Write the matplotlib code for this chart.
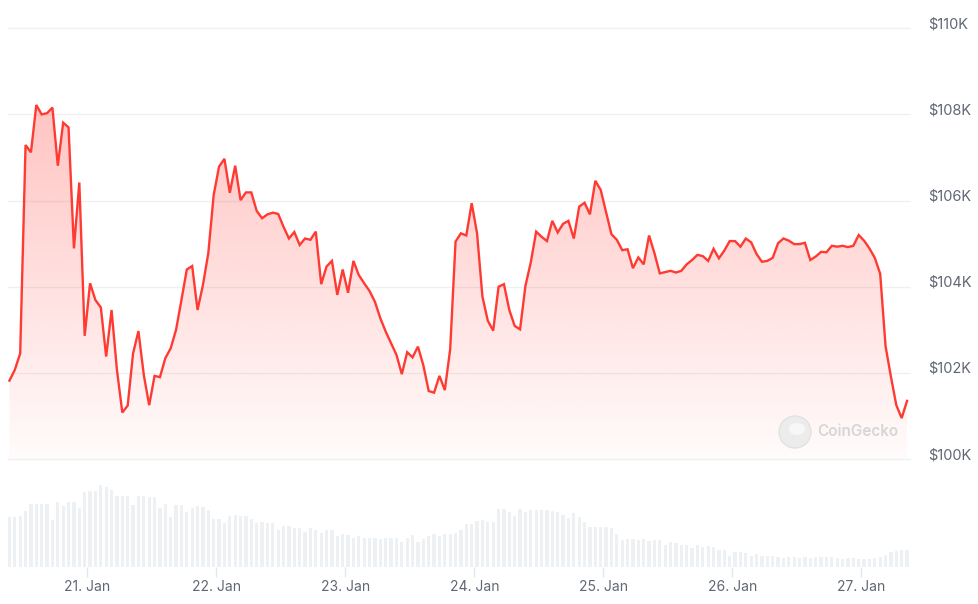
import matplotlib
matplotlib.use("Agg")
import matplotlib.pyplot as plt
import matplotlib.dates as mdates
from matplotlib.patches import Circle, Ellipse
import numpy as np
import pandas as pd

plt.rcParams['font.family'] = ['Inter', 'DejaVu Sans']

# hourly BTC price (USD), 20 Jan 09:30 -> 27 Jan 08:30
price = [
    101820, 102070, 102450, 107290, 107120, 108220, 108000, 108030, 108160, 106810,
    107810, 107700, 104890, 106420, 102860, 104080, 103690, 103520, 102380, 103460,
    102070, 101080, 101240, 102450, 102970, 101950, 101250, 101930, 101900, 102340,
    102570, 103000, 103690, 104400, 104480, 103460, 104040, 104780, 106130, 106790,
    106970, 106180, 106810, 106010, 106190, 106190, 105760, 105590, 105680, 105720,
    105690, 105390, 105120, 105270, 104970, 105120, 105090, 105280, 104060, 104470,
    104600, 103810, 104400, 103860, 104600, 104270, 104080, 103900, 103650, 103270,
    102960, 102690, 102420, 101970, 102480, 102360, 102610, 102180, 101580, 101540,
    101930, 101600, 102550, 105050, 105240, 105190, 105940, 105240, 103770, 103210,
    102980, 104000, 104060, 103460, 103090, 103010, 104020, 104570, 105280, 105160,
    105060, 105530, 105260, 105460, 105530, 105120, 105860, 105950, 105680, 106460,
    106250, 105740, 105220, 105090, 104850, 104870, 104430, 104680, 104520, 105190,
    104780, 104310, 104340, 104370, 104330, 104370, 104520, 104620, 104740, 104710,
    104600, 104880, 104660, 104840, 105060, 105060, 104930, 105120, 105030, 104760,
    104580, 104600, 104670, 105010, 105120, 105070, 104990, 104990, 105020, 104620,
    104700, 104810, 104800, 104950, 104930, 104950, 104920, 104950, 105200, 105070,
    104890, 104670, 104300, 102620, 101910, 101250, 100950, 101350,
]

# hourly traded volume (relative units)
volume = [
    50, 50, 51.3, 55.7, 63.3, 63.3, 63.3, 63.3, 47.3, 65.3,
    60.7, 65.3, 65.3, 59.3, 75, 76.3, 76.3, 82.3, 80, 77.3,
    70.7, 71.3, 71.3, 61.7, 71.3, 71.3, 70, 70, 59.3, 63.3,
    50, 62, 62, 55.3, 59.3, 60.7, 60, 57, 48.3, 48.3,
    44, 51.3, 52.3, 51.3, 51.3, 48.3, 44, 45.3, 44, 44,
    37.3, 41.3, 41.3, 39, 39, 35, 39, 37.3, 34, 36.7,
    36.7, 30.7, 33, 32, 29, 30.7, 29, 29, 29, 28,
    29, 29, 29, 24.7, 29, 32, 24.7, 28, 30.7, 33,
    30.7, 33, 33, 34, 36.7, 43, 43, 46.3, 47.3, 45.3,
    45.3, 58.3, 58.3, 55, 51.3, 58.3, 55, 57, 57, 57,
    57, 55.7, 55, 52.3, 48.7, 53.7, 50, 45, 40.3, 40.3,
    40.3, 40.3, 39, 33.3, 27.3, 28.3, 28.3, 27.3, 28.3, 25.7,
    27.3, 26.7, 22.3, 24.7, 23.7, 22.3, 21.7, 19, 22.3, 20,
    21.3, 20.3, 17.3, 16.7, 11.3, 15.3, 15.3, 14, 11.3, 13,
    11.3, 11.3, 11.3, 10, 9, 10, 10, 9, 10, 9,
    10, 10, 10, 10, 9, 8, 9, 9, 8, 8,
    8, 9, 10, 12.3, 14.7, 16.3, 16.7, 16.7,
]

times = pd.date_range("2025-01-20 09:30", periods=len(price), freq="h")
price_ticks = [100000, 102000, 104000, 106000, 108000, 110000]
price_labels = ["$100K", "$102K", "$104K", "$106K", "$108K", "$110K"]

line_color = "#ff3a33"
grid_color = "#eef0f3"
text_color = "#5f6775"

fig = plt.figure(figsize=(9.79, 6.04), dpi=100)
W, H = 979, 604

def px_axes(x0, y0, x1, y1):
    return fig.add_axes([x0 / W, 1 - y1 / H, (x1 - x0) / W, (y1 - y0) / H])

ax = px_axes(8, 20, 911, 465)
vax = px_axes(8, 480, 911, 567)

t = mdates.date2num(times)
xlim = (mdates.date2num(pd.Timestamp("2025-01-20 09:14")),
        mdates.date2num(pd.Timestamp("2025-01-27 09:14")))

# price panel
ymin, ymax = 99861, 110193
ax.set_xlim(xlim)
ax.set_ylim(ymin, ymax)
for v in price_ticks:
    ax.axhline(v, color=grid_color, lw=1, zorder=0)

poly = ax.fill_between(t, price, 100000, color="none", lw=0)
grad = np.zeros((256, 1, 4))
grad[:, 0, 0] = 1.0
grad[:, 0, 1] = 58 / 255
grad[:, 0, 2] = 51 / 255
grad[:, 0, 3] = np.linspace(0.02, 0.30, 256)
img = ax.imshow(grad, extent=[t[0], t[-1], 100000, max(price)], aspect="auto",
                origin="lower", zorder=1, interpolation="bilinear")
img.set_clip_path(poly.get_paths()[0], transform=ax.transData)
ax.plot(t, price, color=line_color, lw=1.7, zorder=3, solid_joinstyle="miter")

ax.yaxis.tick_right()
ax.set_yticks(price_ticks)
ax.set_yticklabels(price_labels, va="baseline")
ax.tick_params(axis="y", length=0, pad=12, labelsize=10.5, labelcolor=text_color)
ax.tick_params(axis="x", bottom=False, labelbottom=False)
for s in ax.spines.values():
    s.set_visible(False)

# watermark
lx, ly = 795, 432
fig.add_artist(Circle((lx, H - ly), 16, transform=None, facecolor="#ececec",
                      edgecolor="#e2e2e2", lw=1, zorder=2))
fig.add_artist(Ellipse((lx + 2, H - ly + 3), 16, 12, transform=None,
                       facecolor="#f7f7f7", edgecolor="none", zorder=2))
fig.text(817 / W, 1 - 432 / H, "CoinGecko", fontsize=11, fontweight="semibold",
         color="#d6d6d6", ha="left", va="center")

# volume panel
vax.bar(t, volume, width=0.62 / 24, color="#eef1f4", align="center")
vax.set_xlim(xlim)
vax.set_ylim(0, 87)
vax.set_yticks([])
for s in vax.spines.values():
    s.set_visible(False)
vax.xaxis.set_major_locator(mdates.DayLocator())
vax.xaxis.set_major_formatter(mdates.DateFormatter("%d. %b"))
vax.tick_params(axis="x", length=7.5, width=1, color="#e3e6ea", pad=2,
                labelsize=10, labelcolor=text_color)

fig.savefig("out.png", dpi=100, facecolor="white")
